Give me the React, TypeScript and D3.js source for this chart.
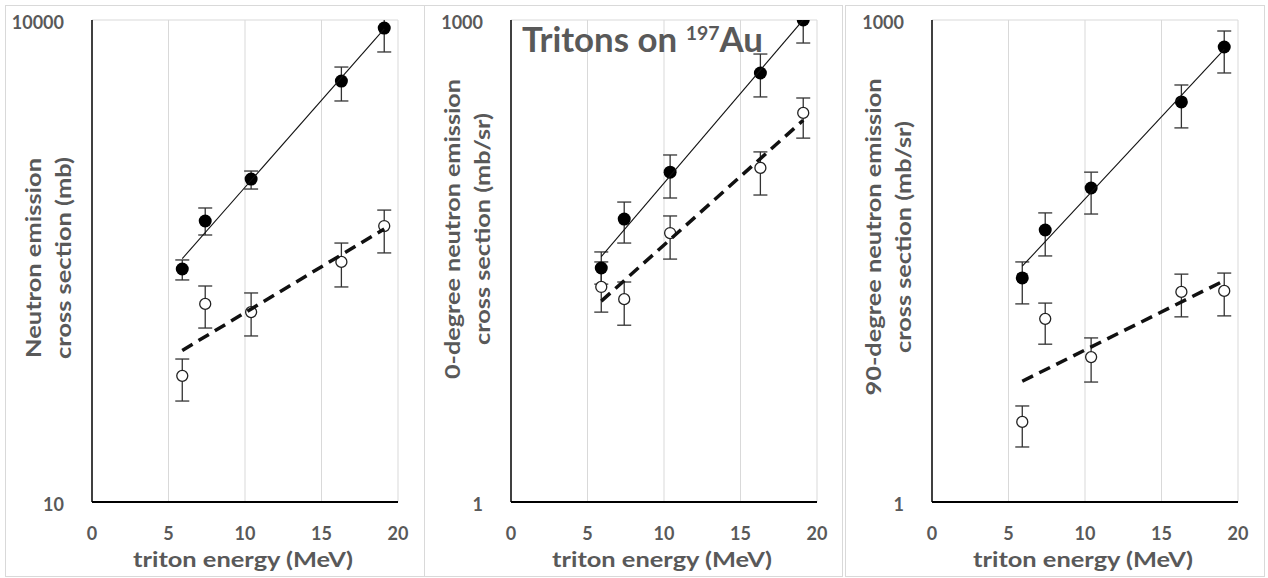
import React, { useEffect, useRef } from "react";
import * as d3 from "d3";

// triton energies (MeV), shared by all three panels
const energies = [5.9, 7.4, 10.4, 16.3, 19.1];
const xTicks = [0, 5, 10, 15, 20];

// panel 1: total neutron emission cross section (mb)
const totalFilled = [282, 561, 1023, 4169, 8913];
const totalFilledLo = [241, 459, 887, 3133, 6324];
const totalFilledHi = [321, 676, 1148, 5096, 12500];
const totalOpen = [61, 171, 152, 312, 522];
const totalOpenLo = [42.5, 121, 108, 218, 355];
const totalOpenHi = [77.6, 221, 200, 409, 656];

// panel 2: 0-degree (mb/sr)
const fwdFilled = [28.6, 57.7, 113, 468, 1000];
const fwdFilledLo = [22.7, 40.9, 78, 332, 719];
const fwdFilledHi = [36.0, 73.6, 144.5, 614, 1390];
const fwdOpen = [21.8, 18.3, 47.2, 120, 264];
const fwdOpenLo = [15.2, 12.6, 32.5, 81.4, 184];
const fwdOpenHi = [31.2, 23.4, 60.3, 151, 327];

// panel 3: 90-degree (mb/sr)
const sideFilled = [24.8, 49.3, 90, 309, 679];
const sideFilledLo = [17.1, 34, 62, 213, 468];
const sideFilledHi = [31.2, 63, 113, 394, 854];
const sideOpen = [3.15, 13.8, 7.98, 20.3, 20.6];
const sideOpenLo = [2.2, 9.6, 5.58, 14.2, 14.4];
const sideOpenHi = [3.96, 17.3, 10.5, 26.2, 26.6];

const yTitles = [
  ["Neutron emission", "cross section (mb)"],
  ["0-degree neutron emission", "cross section (mb/sr)"],
  ["90-degree neutron emission", "cross section (mb/sr)"],
];

const FONT = "Lato, 'Open Sans', sans-serif";
const GREY = "#595959";

const panels = [
  {
    frame: [5, 5, 419, 571],
    left: 92,
    domain: [10, 10000],
    filled: [totalFilled, totalFilledLo, totalFilledHi],
    open: [totalOpen, totalOpenLo, totalOpenHi],
    titleY: 258,
    titleLen: [200, 202],
  },
  {
    frame: [424, 5, 418, 571],
    left: 511,
    domain: [1, 1000],
    filled: [fwdFilled, fwdFilledLo, fwdFilledHi],
    open: [fwdOpen, fwdOpenLo, fwdOpenHi],
    titleY: 229,
    titleLen: [300, 232],
  },
  {
    frame: [845, 5, 419, 571],
    left: 932,
    domain: [1, 1000],
    filled: [sideFilled, sideFilledLo, sideFilledHi],
    open: [sideOpen, sideOpenLo, sideOpenHi],
    titleY: 237,
    titleLen: [317, 232],
  },
];

// log-linear least squares, same as Excel's exponential trendline
function expFit(xs, ys) {
  const ly = ys.map((v) => Math.log10(v));
  const mx = d3.mean(xs);
  const my = d3.mean(ly);
  const sxy = d3.sum(xs, (x, i) => (x - mx) * (ly[i] - my));
  const sxx = d3.sum(xs, (x) => (x - mx) * (x - mx));
  const b = sxy / sxx;
  return (x) => Math.pow(10, my + b * (x - mx));
}

const App = () => {
  const svgRef = useRef();

  useEffect(() => {
    const svg = d3.select(svgRef.current);
    svg.selectAll("*").remove();

    const top = 20;
    const bottom = 502;
    const plotW = 306;

    panels.forEach((p, pi) => {
      const g = svg.append("g");
      const [fx, fy, fw, fh] = p.frame;
      g.append("rect")
        .attr("x", fx + 0.5)
        .attr("y", fy + 0.5)
        .attr("width", fw)
        .attr("height", fh)
        .attr("fill", "#fff")
        .attr("stroke", "#d9d9d9");

      const x = d3.scaleLinear().domain([0, 20]).range([p.left, p.left + plotW]);
      const y = d3.scaleLog().domain(p.domain).range([bottom, top]);

      const clipId = `clip${pi}`;
      g.append("clipPath")
        .attr("id", clipId)
        .append("rect")
        .attr("x", p.left)
        .attr("y", top)
        .attr("width", plotW)
        .attr("height", bottom - top);

      // gridlines
      g.selectAll(".vgrid")
        .data(xTicks.slice(1))
        .enter()
        .append("line")
        .attr("x1", (d) => x(d))
        .attr("x2", (d) => x(d))
        .attr("y1", top)
        .attr("y2", bottom)
        .attr("stroke", "#d9d9d9")
        .attr("stroke-width", 1);
      g.append("line")
        .attr("x1", p.left)
        .attr("x2", p.left + plotW)
        .attr("y1", y(p.domain[1]))
        .attr("y2", y(p.domain[1]))
        .attr("stroke", "#d9d9d9");

      // axes
      g.append("line")
        .attr("x1", p.left)
        .attr("x2", p.left)
        .attr("y1", top)
        .attr("y2", bottom)
        .attr("stroke", "#000")
        .attr("stroke-width", 1.5);
      g.append("line")
        .attr("x1", p.left)
        .attr("x2", p.left + plotW)
        .attr("y1", bottom)
        .attr("y2", bottom)
        .attr("stroke", "#000")
        .attr("stroke-width", 2);

      // tick labels
      g.selectAll(".xt")
        .data(xTicks)
        .enter()
        .append("text")
        .attr("x", (d) => x(d))
        .attr("y", bottom + 31)
        .attr("text-anchor", "middle")
        .attr("dominant-baseline", "central")
        .attr("font-family", FONT)
        .attr("font-weight", 700)
        .attr("font-size", 18)
        .attr("fill", GREY)
        .text((d) => d);
      g.selectAll(".yt")
        .data(p.domain)
        .enter()
        .append("text")
        .attr("x", p.left - 28)
        .attr("y", (d) => y(d) + 2)
        .attr("text-anchor", "end")
        .attr("dominant-baseline", "central")
        .attr("font-family", FONT)
        .attr("font-weight", 700)
        .attr("font-size", 18)
        .attr("fill", GREY)
        .text((d) => d);

      // axis titles
      g.append("text")
        .attr("x", p.left + plotW / 2 - 2)
        .attr("y", 558)
        .attr("text-anchor", "middle")
        .attr("dominant-baseline", "central")
        .attr("font-family", FONT)
        .attr("font-weight", 700)
        .attr("font-size", 21)
        .attr("fill", GREY)
        .attr("textLength", 220)
        .attr("lengthAdjust", "spacingAndGlyphs")
        .text("triton energy (MeV)");
      yTitles[pi].forEach((t, li) => {
        const cx = p.left - (li === 0 ? 60 : 30);
        g.append("text")
          .attr("transform", `translate(${cx},${p.titleY}) rotate(-90)`)
          .attr("text-anchor", "middle")
          .attr("dominant-baseline", "central")
          .attr("font-family", FONT)
          .attr("font-weight", 700)
          .attr("font-size", 21)
          .attr("fill", GREY)
          .attr("textLength", p.titleLen[li])
          .attr("lengthAdjust", "spacingAndGlyphs")
          .text(t);
      });

      const plot = g.append("g").attr("clip-path", `url(#${clipId})`);

      // error bars
      [p.filled, p.open].forEach(([vals, lo, hi]) => {
        vals.forEach((v, i) => {
          const cx = x(energies[i]);
          const eb = plot.append("g").attr("stroke", "#333").attr("stroke-width", 1.3);
          eb.append("line").attr("x1", cx).attr("x2", cx).attr("y1", y(lo[i])).attr("y2", y(hi[i]));
          eb.append("line").attr("x1", cx - 7).attr("x2", cx + 7).attr("y1", y(lo[i])).attr("y2", y(lo[i]));
          eb.append("line").attr("x1", cx - 7).attr("x2", cx + 7).attr("y1", y(hi[i])).attr("y2", y(hi[i]));
        });
      });

      // markers
      plot.selectAll(".open")
        .data(p.open[0])
        .enter()
        .append("circle")
        .attr("cx", (d, i) => x(energies[i]))
        .attr("cy", (d) => y(d))
        .attr("r", 5.5)
        .attr("fill", "#fff")
        .attr("stroke", "#222")
        .attr("stroke-width", 1.3);
      plot.selectAll(".filled")
        .data(p.filled[0])
        .enter()
        .append("circle")
        .attr("cx", (d, i) => x(energies[i]))
        .attr("cy", (d) => y(d))
        .attr("r", 6.5)
        .attr("fill", "#000");

      // trendlines
      const x0 = energies[0];
      const x1 = energies[energies.length - 1];
      const line = d3.line().x((d) => x(d[0])).y((d) => y(d[1]));
      const fFit = expFit(energies, p.filled[0]);
      const oFit = expFit(energies, p.open[0]);
      plot.append("path")
        .attr("d", line([[x0, fFit(x0)], [x1, fFit(x1)]]))
        .attr("fill", "none")
        .attr("stroke", "#111")
        .attr("stroke-width", 1.1);
      plot.append("path")
        .attr("d", line([[x0, oFit(x0)], [x1, oFit(x1)]]))
        .attr("fill", "none")
        .attr("stroke", "#111")
        .attr("stroke-width", 3.5)
        .attr("stroke-dasharray", "12 7");
    });

    // chart title in middle panel (one text, superscript as tspan)
    const title = svg.append("text")
      .attr("x", 522)
      .attr("y", 52)
      .attr("font-family", FONT)
      .attr("font-weight", 700)
      .attr("font-size", 34)
      .attr("fill", GREY)
      .attr("textLength", 241)
      .attr("lengthAdjust", "spacingAndGlyphs");
    title.append("tspan").text("Tritons on ");
    title.append("tspan").attr("font-size", 19).attr("dy", -12).text("197");
    title.append("tspan").attr("dy", 12).text("Au");
  }, []);

  return (
    <svg
      ref={svgRef}
      width={1268}
      height={578}
      style={{ position: "absolute", left: 0, top: 0, background: "#fff" }}
    ></svg>
  );
};

export default App;
